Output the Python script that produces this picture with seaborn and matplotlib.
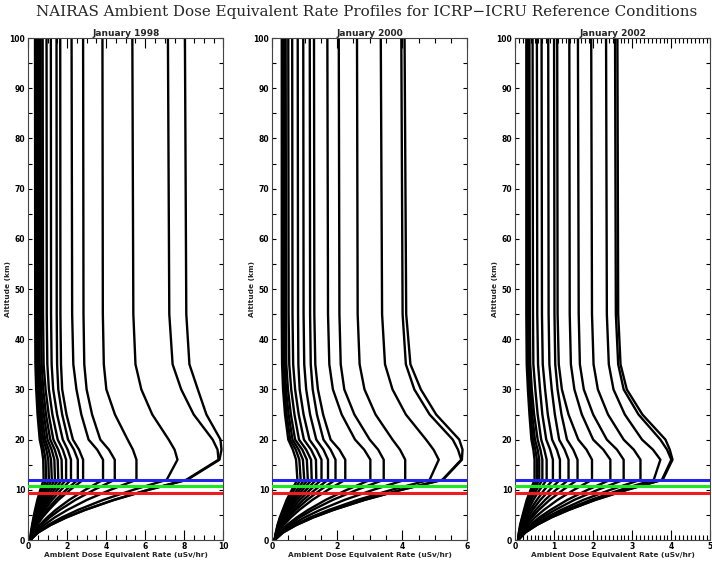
import pandas as pd
import seaborn as sns
from matplotlib import pyplot as plt
from matplotlib.ticker import MultipleLocator

ALT_KM = [0, 1.5, 3, 4.5, 6, 8, 10, 12, 16, 18, 20, 25, 30, 35, 45, 100]

# ambient dose equivalent rate (uSv/hr), one row per profile
DOSE_1998 = [
    [0.12, 0.15, 0.21, 0.28, 0.36, 0.48, 0.63, 0.80, 0.78, 0.71, 0.60, 0.49, 0.42, 0.38, 0.37, 0.36],
    [0.12, 0.16, 0.23, 0.31, 0.40, 0.55, 0.73, 0.93, 0.90, 0.81, 0.68, 0.55, 0.47, 0.42, 0.41, 0.40],
    [0.12, 0.17, 0.24, 0.34, 0.45, 0.63, 0.84, 1.07, 1.04, 0.94, 0.78, 0.63, 0.53, 0.48, 0.46, 0.45],
    [0.12, 0.18, 0.26, 0.37, 0.51, 0.71, 0.95, 1.22, 1.18, 1.06, 0.88, 0.71, 0.60, 0.54, 0.51, 0.50],
    [0.12, 0.18, 0.28, 0.41, 0.56, 0.79, 1.07, 1.38, 1.35, 1.21, 1.00, 0.81, 0.68, 0.60, 0.57, 0.56],
    [0.12, 0.19, 0.31, 0.45, 0.62, 0.89, 1.20, 1.55, 1.52, 1.37, 1.14, 0.92, 0.78, 0.70, 0.66, 0.65],
    [0.12, 0.20, 0.33, 0.49, 0.69, 0.99, 1.34, 1.74, 1.72, 1.55, 1.30, 1.06, 0.90, 0.80, 0.77, 0.75],
    [0.12, 0.21, 0.36, 0.54, 0.76, 1.10, 1.50, 1.95, 1.95, 1.78, 1.52, 1.25, 1.07, 0.99, 0.96, 0.95],
    [0.12, 0.22, 0.39, 0.60, 0.85, 1.23, 1.69, 2.20, 2.20, 2.03, 1.78, 1.49, 1.29, 1.21, 1.18, 1.17],
    [0.12, 0.24, 0.44, 0.68, 0.97, 1.42, 1.95, 2.55, 2.55, 2.35, 2.05, 1.75, 1.55, 1.49, 1.47, 1.46],
    [0.12, 0.26, 0.47, 0.74, 1.07, 1.56, 2.16, 2.82, 2.82, 2.61, 2.30, 1.97, 1.75, 1.69, 1.66, 1.65],
    [0.12, 0.31, 0.60, 0.98, 1.42, 2.11, 2.93, 3.84, 3.84, 3.54, 3.10, 2.73, 2.48, 2.32, 2.26, 2.23],
    [0.12, 0.34, 0.68, 1.11, 1.63, 2.43, 3.38, 4.44, 4.44, 4.14, 3.70, 3.28, 3.00, 2.88, 2.84, 2.82],
    [0.12, 0.39, 0.83, 1.37, 2.02, 3.02, 4.22, 5.55, 5.55, 5.37, 5.10, 4.45, 4.01, 3.88, 3.83, 3.81],
    [0.12, 0.47, 1.03, 1.73, 2.56, 3.85, 5.39, 7.10, 7.65, 7.50, 7.20, 6.36, 5.80, 5.50, 5.39, 5.34],
    [0.12, 0.52, 1.16, 1.96, 2.91, 4.39, 6.14, 8.10, 9.75, 9.70, 9.45, 8.48, 7.84, 7.40, 7.23, 7.16],
    [0.12, 0.52, 1.16, 1.97, 2.93, 4.42, 6.18, 8.15, 9.80, 9.90, 9.85, 9.13, 8.69, 8.26, 8.10, 8.03],
]

DOSE_2000 = [
    [0.08, 0.12, 0.17, 0.24, 0.33, 0.45, 0.61, 0.78, 0.74, 0.64, 0.50, 0.40, 0.34, 0.31, 0.30, 0.30],
    [0.08, 0.12, 0.18, 0.26, 0.36, 0.51, 0.68, 0.88, 0.84, 0.73, 0.56, 0.45, 0.38, 0.35, 0.34, 0.33],
    [0.08, 0.13, 0.20, 0.29, 0.40, 0.57, 0.77, 0.99, 0.95, 0.82, 0.63, 0.51, 0.43, 0.39, 0.38, 0.37],
    [0.08, 0.13, 0.21, 0.31, 0.44, 0.63, 0.85, 1.10, 1.07, 0.93, 0.71, 0.58, 0.49, 0.44, 0.43, 0.42],
    [0.08, 0.14, 0.23, 0.34, 0.48, 0.69, 0.94, 1.22, 1.20, 1.05, 0.83, 0.69, 0.59, 0.53, 0.51, 0.50],
    [0.08, 0.14, 0.25, 0.37, 0.53, 0.76, 1.05, 1.36, 1.35, 1.20, 0.98, 0.82, 0.71, 0.65, 0.63, 0.62],
    [0.08, 0.15, 0.27, 0.41, 0.58, 0.85, 1.17, 1.52, 1.52, 1.37, 1.15, 0.97, 0.85, 0.81, 0.80, 0.79],
    [0.08, 0.16, 0.29, 0.46, 0.65, 0.96, 1.32, 1.72, 1.72, 1.58, 1.36, 1.17, 1.05, 0.99, 0.97, 0.96],
    [0.08, 0.17, 0.32, 0.51, 0.73, 1.08, 1.49, 1.95, 1.95, 1.80, 1.58, 1.38, 1.25, 1.19, 1.17, 1.16],
    [0.08, 0.19, 0.36, 0.58, 0.84, 1.24, 1.72, 2.25, 2.25, 2.07, 1.80, 1.57, 1.41, 1.33, 1.30, 1.29],
    [0.08, 0.23, 0.46, 0.76, 1.11, 1.65, 2.30, 3.02, 3.02, 2.83, 2.55, 2.14, 1.87, 1.76, 1.72, 1.70],
    [0.08, 0.25, 0.52, 0.85, 1.25, 1.87, 2.61, 3.43, 3.43, 3.26, 3.00, 2.53, 2.22, 2.11, 2.07, 2.05],
    [0.08, 0.28, 0.60, 1.00, 1.48, 2.23, 3.11, 4.09, 4.09, 3.93, 3.70, 3.18, 2.84, 2.69, 2.63, 2.61],
    [0.08, 0.32, 0.70, 1.17, 1.75, 2.63, 3.67, 4.84, 5.12, 4.96, 4.73, 4.11, 3.70, 3.47, 3.38, 3.34],
    [0.08, 0.34, 0.75, 1.26, 1.88, 2.84, 3.97, 5.23, 5.81, 5.71, 5.55, 4.84, 4.37, 4.11, 4.01, 3.97],
    [0.08, 0.34, 0.75, 1.27, 1.89, 2.85, 3.98, 5.25, 5.83, 5.85, 5.75, 5.04, 4.57, 4.25, 4.12, 4.07],
]

DOSE_2002 = [
    [0.08, 0.10, 0.13, 0.18, 0.23, 0.30, 0.40, 0.50, 0.50, 0.47, 0.42, 0.37, 0.33, 0.30, 0.29, 0.29],
    [0.08, 0.10, 0.14, 0.19, 0.25, 0.34, 0.44, 0.56, 0.56, 0.52, 0.46, 0.40, 0.36, 0.33, 0.31, 0.31],
    [0.08, 0.11, 0.15, 0.20, 0.27, 0.37, 0.49, 0.62, 0.62, 0.58, 0.51, 0.44, 0.39, 0.36, 0.34, 0.34],
    [0.08, 0.11, 0.16, 0.22, 0.30, 0.41, 0.55, 0.70, 0.70, 0.65, 0.58, 0.49, 0.43, 0.39, 0.38, 0.37],
    [0.08, 0.12, 0.17, 0.25, 0.34, 0.47, 0.63, 0.81, 0.81, 0.75, 0.67, 0.58, 0.52, 0.47, 0.46, 0.45],
    [0.08, 0.12, 0.20, 0.28, 0.39, 0.56, 0.75, 0.97, 0.97, 0.90, 0.80, 0.70, 0.64, 0.59, 0.57, 0.56],
    [0.08, 0.13, 0.22, 0.33, 0.45, 0.65, 0.89, 1.15, 1.15, 1.07, 0.95, 0.84, 0.77, 0.71, 0.69, 0.68],
    [0.08, 0.14, 0.25, 0.38, 0.53, 0.77, 1.05, 1.37, 1.37, 1.27, 1.13, 1.02, 0.94, 0.88, 0.86, 0.85],
    [0.08, 0.16, 0.28, 0.43, 0.61, 0.89, 1.23, 1.60, 1.60, 1.49, 1.33, 1.19, 1.09, 1.03, 1.01, 1.00],
    [0.08, 0.17, 0.33, 0.51, 0.74, 1.09, 1.51, 1.97, 1.97, 1.83, 1.62, 1.37, 1.20, 1.12, 1.09, 1.08],
    [0.08, 0.20, 0.39, 0.62, 0.91, 1.34, 1.86, 2.44, 2.44, 2.26, 2.00, 1.71, 1.52, 1.43, 1.40, 1.39],
    [0.08, 0.22, 0.43, 0.70, 1.03, 1.52, 2.12, 2.78, 2.78, 2.61, 2.35, 2.00, 1.76, 1.66, 1.63, 1.61],
    [0.08, 0.24, 0.49, 0.80, 1.18, 1.75, 2.44, 3.21, 3.21, 3.04, 2.78, 2.38, 2.12, 2.01, 1.97, 1.95],
    [0.08, 0.25, 0.53, 0.88, 1.29, 1.94, 2.70, 3.55, 3.72, 3.53, 3.25, 2.81, 2.52, 2.40, 2.35, 2.33],
    [0.08, 0.26, 0.56, 0.93, 1.37, 2.05, 2.86, 3.76, 4.00, 3.89, 3.72, 3.16, 2.78, 2.64, 2.58, 2.56],
    [0.08, 0.27, 0.56, 0.93, 1.38, 2.06, 2.87, 3.78, 4.03, 3.96, 3.85, 3.26, 2.86, 2.70, 2.64, 2.62],
]

PANEL_TITLES = ["January 1998", "January 2000", "January 2002"]
X_MAX = [10, 6, 5]
X_MAJOR = [2, 2, 1]
X_MINOR = [0.5, 0.5, 0.1]

# flight levels 31, 35 and 39 kft in km
FLIGHT_LEVELS_KM = [9.45, 10.67, 11.89]
FLIGHT_COLORS = ["#ee1c1c", "#1ee61e", "#2424e6"]

sns.set_style("ticks")
plt.rcParams["font.family"] = ["DejaVu Sans"]

fig = plt.figure(figsize=(7.12, 5.61), dpi=100)
lefts = [0.0393, 0.382, 0.7233]

for i, doses in enumerate([DOSE_1998, DOSE_2000, DOSE_2002]):
    ax = fig.add_axes([lefts[i], 0.0374, 0.2745, 0.8948])
    rows = []
    for k, prof in enumerate(doses):
        for a, d in zip(ALT_KM, prof):
            rows.append([k, a, d])
    df = pd.DataFrame(rows, columns=["curve", "alt", "dose"])
    sns.lineplot(data=df, x="dose", y="alt", units="curve", estimator=None,
                 sort=False, color="black", lw=1.7, ax=ax, legend=False)

    for lvl, c in zip(FLIGHT_LEVELS_KM, FLIGHT_COLORS):
        ax.axhline(lvl, color=c, lw=2.2, zorder=5)

    ax.set_xlim(0, X_MAX[i])
    ax.set_ylim(0, 100)
    ax.xaxis.set_major_locator(MultipleLocator(X_MAJOR[i]))
    ax.xaxis.set_minor_locator(MultipleLocator(X_MINOR[i]))
    ax.yaxis.set_major_locator(MultipleLocator(10))
    ax.yaxis.set_minor_locator(MultipleLocator(5))
    ax.tick_params(which="both", direction="in", top=True, right=True,
                   width=0.8, colors="black", labelsize=5.5)
    ax.tick_params(axis="x", which="major", length=7, pad=1.5)
    ax.tick_params(axis="x", which="minor", length=3.5)
    ax.tick_params(axis="y", which="major", length=3, pad=2)
    ax.tick_params(axis="y", which="minor", length=3)
    for lab in ax.get_xticklabels() + ax.get_yticklabels():
        lab.set_fontweight("bold")
    for sp in ax.spines.values():
        sp.set_linewidth(0.8)
        sp.set_color("#444444")

    ax.set_title(PANEL_TITLES[i], fontsize=6.5, fontweight="bold", pad=1.5)
    ax.set_xlabel("Ambient Dose Equivalent Rate (uSv/hr)", fontsize=5.3,
                  fontweight="bold", labelpad=0.5)
    ax.set_ylabel("Altitude (km)", fontsize=5.3, fontweight="bold")
    ax.yaxis.set_label_coords(-0.088, 0.5)

fig.text(0.515, 0.978,
         "NAIRAS Ambient Dose Equivalent Rate Profiles for ICRP\u2212ICRU Reference Conditions",
         ha="center", va="center", fontsize=10.9, family="DejaVu Serif")

fig.savefig("out.png", dpi=100)
